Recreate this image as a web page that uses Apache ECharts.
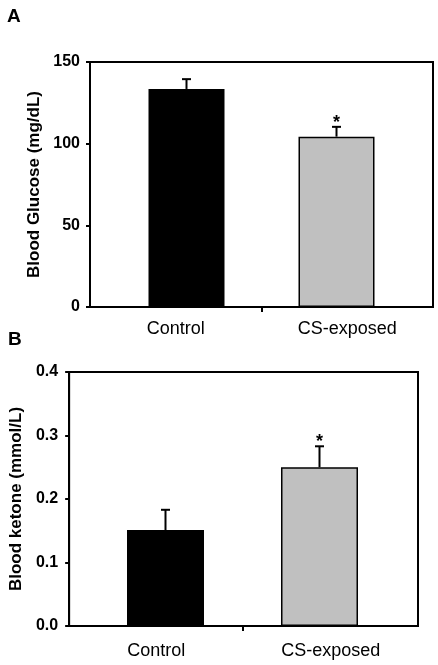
<!DOCTYPE html>
<html>
<head>
<meta charset="utf-8">
<script src="https://cdn.jsdelivr.net/npm/echarts@6/dist/echarts.min.js"></script>
<style>html,body{margin:0;padding:0;background:#fff;}#c{width:438px;height:665px;}</style>
</head>
<body>
<div id="c"></div>
<script>
// ---- data ----
const categories = ['Control', 'CS-exposed'];
const glucoseMean = [133.5, 104.3];
const glucoseSE = [6.0, 6.0];
const ketoneMean = [0.151, 0.250];
const ketoneSE = [0.032, 0.033];
const significant = [false, true];
const barColors = ['#000000', '#c0c0c0'];

const FONT = '"Liberation Sans", Arial, sans-serif';

// bar slots: category, spacer, category (bars sit closer than label slots)
const barSlots = [categories[0], ' ', categories[1]];
const slotIndex = [0, 2];

function barData(means) {
  const d = ['-', '-', '-'];
  means.forEach((v, i) => {
    d[slotIndex[i]] = { value: v, itemStyle: { color: barColors[i], borderColor: '#000', borderWidth: 1.5 } };
  });
  return d;
}
function errData(means, ses) {
  return means.map((v, i) => [slotIndex[i], v, ses[i], significant[i] ? 1 : 0]);
}
function errRender(params, api) {
  const x = api.value(0), m = api.value(1), e = api.value(2), sig = api.value(3);
  const b = api.coord([x, m]);
  const t = api.coord([x, m + e]);
  const children = [
    { type: 'line', shape: { x1: b[0], y1: b[1], x2: t[0], y2: t[1] }, style: { stroke: '#000', lineWidth: 2 } },
    { type: 'line', shape: { x1: t[0] - 4.5, y1: t[1], x2: t[0] + 4.5, y2: t[1] }, style: { stroke: '#000', lineWidth: 2 } }
  ];
  if (sig) {
    children.push({ type: 'text', style: { text: '*', x: t[0], y: t[1] - 4, textAlign: 'center', textVerticalAlign: 'middle', font: 'bold 18px ' + FONT, fill: '#000' } });
  }
  return { type: 'group', children };
}

const chart = echarts.init(document.getElementById('c'), null, { renderer: 'canvas' });

const frameGrid = (l, t, w, h) => ({ left: l, top: t, width: w, height: h, show: true, borderColor: '#000', borderWidth: 2, backgroundColor: 'transparent', containLabel: false });
const barGrid = (l, t, w, h) => ({ left: l, top: t, width: w, height: h, show: false, containLabel: false });

const option = {
  animation: false,
  backgroundColor: '#fff',
  textStyle: { fontFamily: FONT },
  title: [
    { text: 'A', left: 2, top: 2, textStyle: { fontSize: 19, fontWeight: 'bold', color: '#000', fontFamily: FONT } },
    { text: 'B', left: 3, top: 325, textStyle: { fontSize: 19, fontWeight: 'bold', color: '#000', fontFamily: FONT } }
  ],
  grid: [
    frameGrid(90, 62, 343, 245),
    barGrid(149, 62, 225, 245),
    frameGrid(67, 372, 351, 254),
    barGrid(127, 372, 231, 254)
  ],
  xAxis: [
    { type: 'category', gridIndex: 0, data: categories, axisLine: { show: true, lineStyle: { color: '#000', width: 2 } }, axisTick: { show: false },
      axisLabel: { color: '#000', fontSize: 18, margin: 13, fontFamily: FONT, interval: 0 } },
    { type: 'category', gridIndex: 1, data: barSlots, axisLine: { show: false }, axisLabel: { show: false },
      axisTick: { show: true, alignWithLabel: true, interval: (i) => i === 1, length: 5, lineStyle: { color: '#000', width: 2 } } },
    { type: 'category', gridIndex: 2, data: categories, axisLine: { show: true, lineStyle: { color: '#000', width: 2 } }, axisTick: { show: false },
      axisLabel: { color: '#000', fontSize: 18, margin: 16, fontFamily: FONT, interval: 0 } },
    { type: 'category', gridIndex: 3, data: barSlots, axisLine: { show: false }, axisLabel: { show: false },
      axisTick: { show: true, alignWithLabel: true, interval: (i) => i === 1, length: 5, lineStyle: { color: '#000', width: 2 } } }
  ],
  yAxis: [
    { type: 'value', gridIndex: 0, min: 0, max: 150, interval: 50, splitLine: { show: false },
      axisLine: { show: true, lineStyle: { color: '#000', width: 2 } },
      axisTick: { show: true, length: 4, lineStyle: { color: '#000', width: 2 } },
      axisLabel: { color: '#000', fontSize: 16, fontWeight: 'bold', margin: 10, fontFamily: FONT },
      name: 'Blood Glucose (mg/dL)', nameLocation: 'middle', nameGap: 43,
      nameTextStyle: { color: '#000', fontSize: 17, fontWeight: 'bold', fontFamily: FONT } },
    { type: 'value', gridIndex: 1, min: 0, max: 150, show: false, splitLine: { show: false } },
    { type: 'value', gridIndex: 2, min: 0, max: 0.4, interval: 0.1, splitLine: { show: false },
      axisLine: { show: true, lineStyle: { color: '#000', width: 2 } },
      axisTick: { show: true, length: 4, lineStyle: { color: '#000', width: 2 } },
      axisLabel: { color: '#000', fontSize: 16, fontWeight: 'bold', margin: 11, fontFamily: FONT, formatter: (v) => v.toFixed(1) },
      name: 'Blood ketone (mmol/L)', nameLocation: 'middle', nameGap: 40,
      nameTextStyle: { color: '#000', fontSize: 17, fontWeight: 'bold', fontFamily: FONT } },
    { type: 'value', gridIndex: 3, min: 0, max: 0.4, show: false, splitLine: { show: false } }
  ],
  series: [
    { type: 'bar', xAxisIndex: 1, yAxisIndex: 1, barWidth: 76, data: barData(glucoseMean) },
    { type: 'custom', xAxisIndex: 1, yAxisIndex: 1, renderItem: errRender, data: errData(glucoseMean, glucoseSE), z: 5 },
    { type: 'bar', xAxisIndex: 3, yAxisIndex: 3, barWidth: 77, data: barData(ketoneMean) },
    { type: 'custom', xAxisIndex: 3, yAxisIndex: 3, renderItem: errRender, data: errData(ketoneMean, ketoneSE), z: 5 }
  ]
};
chart.setOption(option);
</script>
</body>
</html>
